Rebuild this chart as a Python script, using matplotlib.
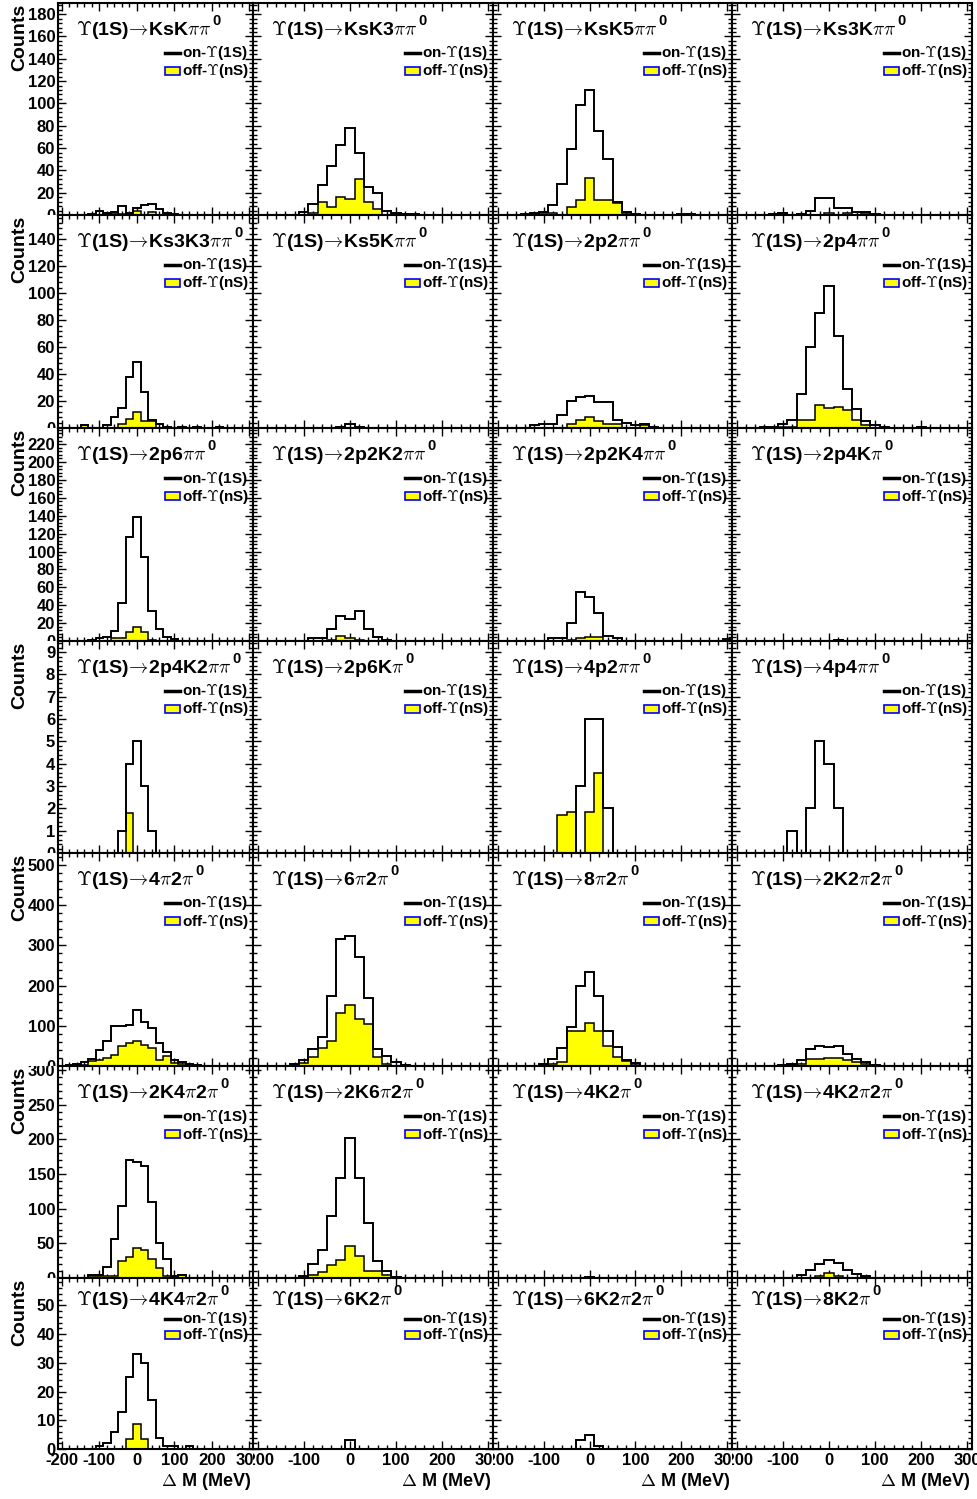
import numpy as np
import matplotlib
matplotlib.use('Agg')
import matplotlib.pyplot as plt
from matplotlib.ticker import MultipleLocator, FuncFormatter
from matplotlib.lines import Line2D
from matplotlib.patches import Rectangle
from matplotlib.transforms import Bbox

# ---------------- data ----------------
BIN_CENTERS = np.arange(-200, 301, 20)          # Delta M bin centres (MeV)
BIN_EDGES = np.arange(-210, 311, 20)

DECAYS = ['KsKππ', 'KsK3ππ', 'KsK5ππ', 'Ks3Kππ',
          'Ks3K3ππ', 'Ks5Kππ', '2p2ππ', '2p4ππ',
          '2p6ππ', '2p2K2ππ', '2p2K4ππ', '2p4Kπ',
          '2p4K2ππ', '2p6Kπ', '4p2ππ', '4p4ππ',
          '4π2π', '6π2π', '8π2π', '2K2π2π',
          '2K4π2π', '2K6π2π', '4K2π', '4K2π2π',
          '4K4π2π', '6K2π', '6K2π2π', '8K2π']   # each followed by superscript 0

ON_COUNTS = [
    {-120: 1, -100: 4, -80: 2, -60: 3, -40: 8, -20: 2, 0: 6, 20: 9, 40: 10, 60: 5, 80: 2, 100: 1},
    {-100: 3, -80: 10, -60: 27, -40: 44, -20: 63, 0: 78, 20: 56, 40: 25, 60: 20, 80: 4, 100: 2, 120: 1, 140: 1},
    {-140: 1, -120: 2, -100: 3, -80: 9, -60: 28, -40: 59, -20: 99, 0: 112, 20: 75, 40: 50, 60: 12, 80: 3, 100: 1, 200: 1, 220: 1},
    {-120: 1, -100: 2, -60: 1, -40: 4, -20: 15, 0: 15, 20: 6, 40: 6, 60: 3, 80: 3, 100: 1},
    {-140: 2, -80: 2, -60: 8, -40: 15, -20: 38, 0: 49, 20: 27, 40: 6, 60: 3, 80: 1, 120: 1, 160: 1, 220: 1},
    {-20: 1, 0: 3, 20: 1},
    {-120: 2, -100: 3, -80: 3, -60: 10, -40: 20, -20: 23, 0: 24, 20: 19, 40: 19, 60: 6, 80: 4, 100: 2, 120: 3, 140: 1},
    {-140: 1, -120: 1, -100: 3, -80: 6, -60: 25, -40: 60, -20: 85, 0: 105, 20: 68, 40: 29, 60: 14, 80: 5, 100: 2, 120: 1, 200: 1},
    {-120: 1, -100: 3, -80: 5, -60: 11, -40: 43, -20: 116, 0: 139, 20: 94, 40: 33, 60: 13, 80: 5, 100: 2},
    {-80: 3, -60: 3, -40: 13, -20: 28, 0: 25, 20: 33, 40: 13, 60: 4, 80: 1},
    {-80: 3, -60: 3, -40: 20, -20: 55, 0: 49, 20: 31, 40: 6, 60: 3, 300: 2},
    {20: 1},
    {-40: 1, -20: 4, 0: 5, 20: 3, 40: 1},
    {},
    {-20: 3, 0: 6, 20: 6, 40: 2},
    {-80: 1, -40: 2, -20: 5, 0: 4, 20: 2},
    {-180: 2, -160: 5, -140: 10, -120: 18, -100: 40, -80: 62, -60: 99, -40: 100, -20: 102, 0: 140, 20: 110, 40: 95, 60: 57, 80: 35, 100: 16, 120: 10, 140: 6, 160: 3, 180: 1},
    {-140: 1, -120: 6, -100: 16, -80: 43, -60: 73, -40: 174, -20: 316, 0: 323, 20: 271, 40: 169, 60: 43, 80: 25, 100: 10, 120: 3, 140: 1},
    {-100: 6, -80: 18, -60: 44, -40: 96, -20: 199, 0: 234, 20: 174, 40: 88, 60: 47, 80: 16, 100: 7},
    {-100: 3, -80: 6, -60: 15, -40: 43, -20: 49, 0: 48, 20: 51, 40: 30, 60: 18, 80: 10, 100: 3},
    {-120: 4, -100: 5, -80: 16, -60: 57, -40: 104, -20: 170, 0: 168, 20: 161, 40: 109, 60: 51, 80: 28, 100: 3, 120: 4},
    {-100: 3, -80: 20, -60: 41, -40: 90, -20: 145, 0: 202, 20: 145, 40: 79, 60: 25, 80: 10, 100: 2},
    {0: 1},
    {-60: 5, -40: 12, -20: 20, 0: 26, 20: 22, 40: 12, 60: 6, 80: 3},
    {-100: 1, -80: 2, -60: 6, -40: 13, -20: 25, 0: 33, 20: 30, 40: 17, 60: 4, 80: 1, 100: 1, 140: 1},
    {0: 3},
    {-20: 3, 0: 5, 20: 1},
    {},
]

OFF_COUNTS = [
    {-60: 2, -40: 1, 0: 4, 40: 3},
    {-80: 2, -60: 12, -40: 7, -20: 16, 0: 14, 20: 32, 40: 12, 60: 5},
    {-120: 1, -100: 2, -80: 2, -40: 7, -20: 13, 0: 33, 20: 13, 40: 13, 60: 11, 80: 1},
    {-100: 2, 0: 2, 40: 2, 80: 2},
    {-140: 2, -40: 3, -20: 7, 0: 12, 20: 5, 40: 5, 120: 1},
    {},
    {-40: 3, -20: 6, 0: 8, 20: 5, 40: 3, 60: 3, 120: 2},
    {-100: 1, -80: 1, -60: 6, -40: 6, -20: 17, 0: 15, 20: 15.5, 40: 13, 60: 6, 80: 2},
    {-60: 3, -40: 3, -20: 10, 0: 16, 20: 10, 40: 1},
    {-40: 1, -20: 6, 0: 3, 20: 1},
    {-40: 1, -20: 3, 0: 5, 20: 4},
    {},
    {-20: 1.8},
    {},
    {-60: 1.7, -40: 1.85, 0: 1.85, 20: 3.6},
    {},
    {-140: 3, -120: 12, -100: 16, -80: 20, -60: 28, -40: 51, -20: 57, 0: 62, 20: 53, 40: 45, 60: 15, 80: 26, 100: 8, 120: 4},
    {-120: 3, -100: 8, -80: 22, -60: 46, -40: 63, -20: 132, 0: 152, 20: 118, 40: 104, 60: 22, 80: 6},
    {-100: 3, -80: 5, -60: 10, -40: 88, -20: 88, 0: 108, 20: 86, 40: 50, 60: 22, 80: 12, 100: 3},
    {-80: 2, -60: 5, -40: 18, -20: 18, 0: 20, 20: 20, 40: 16, 60: 10, 80: 6},
    {-120: 3, -100: 3, -80: 3, -60: 3, -40: 24, -20: 31, 0: 44, 20: 40, 40: 27, 60: 15, 80: 3, 120: 4},
    {-80: 4, -60: 8, -40: 19, -20: 26, 0: 46, 20: 32, 40: 10, 60: 10, 80: 4},
    {},
    {-20: 3, 0: 7, 20: 3},
    {-20: 3.5, 0: 8.8, 20: 3.5},
    {},
    {},
    {},
]

ROW_YMAX = [190, 158, 238, 9.5, 530, 306, 59.5]
ROW_YSTEP = [20, 20, 20, 1, 100, 50, 10]
ROW_YMINOR = [4, 4, 4, 0.2, 20, 10, 2]
X_TICKS = [-200, -100, 0, 100, 200, 300]

# ---------------- layout (pixels) ----------------
W, H = 977, 1499
COL_X = [(58, 253), (253, 493), (493, 732), (732, 972)]
COL_PAD = [(0, 253), (253, 493), (493, 732), (732, 977)]
ROW_Y = [(3, 215), (215, 428), (428, 641), (641, 853), (853, 1066), (1066, 1278), (1278, 1449)]
ROW_PAD = [(0, 215), (215, 428), (428, 641), (641, 853), (853, 1066), (1066, 1278), (1278, 1499)]
TITLE_BASE = [32, 32, 32, 32, 32, 32, 27]
SUP_BASE = [22, 22, 22, 22, 22, 22, 17]
LEG_ON = [50, 50, 50, 50, 50, 50, 41]
LEG_OFF = [68, 68, 68, 68, 68, 68, 57]

plt.rcParams['font.family'] = ['Liberation Sans', 'DejaVu Sans']
plt.rcParams['font.weight'] = 'bold'
plt.rcParams['mathtext.fontset'] = 'cm'

fig = plt.figure(figsize=(W / 100, H / 100), dpi=100)
fig.patch.set_facecolor('white')

YELLOW = '#ffff00'


def fx(px):
    return px / W


def fy(py):
    return 1 - py / H


def to_math(decay):
    out = ''
    math = False
    for ch in decay:
        if ch == 'π':
            if not math:
                out += '$'
                math = True
            out += r'\pi'
        else:
            if math:
                out += '$'
                math = False
            out += ch
    if math:
        out += '$'
    return out


clip_jobs = []
titles = []

for idx, decay in enumerate(DECAYS):
    r, c = divmod(idx, 4)
    x0, x1 = COL_X[c]
    y0, y1 = ROW_Y[r]
    ax = fig.add_axes([fx(x0), fy(y1), fx(x1 - x0), (y1 - y0) / H])
    on = np.array([ON_COUNTS[idx].get(b, 0) for b in BIN_CENTERS], dtype=float)
    off = np.array([OFF_COUNTS[idx].get(b, 0) for b in BIN_CENTERS], dtype=float)
    if off.any():
        ax.stairs(off, BIN_EDGES, fill=True, facecolor=YELLOW, edgecolor='none', zorder=2)
        ax.stairs(off, BIN_EDGES, fill=False, color='black', linewidth=1.1, zorder=3)
    ax.stairs(on, BIN_EDGES, fill=False, color='black', linewidth=1.4, zorder=4)

    ax.set_xlim(-210, 310)
    ax.set_ylim(0, ROW_YMAX[r])
    ax.set_xticks(X_TICKS)
    ax.xaxis.set_minor_locator(MultipleLocator(20))
    ax.yaxis.set_major_locator(MultipleLocator(ROW_YSTEP[r]))
    ax.yaxis.set_minor_locator(MultipleLocator(ROW_YMINOR[r]))
    ax.tick_params(which='both', direction='in', top=True, right=True, width=1, labelsize=12)
    ax.tick_params(which='major', length=6)
    ax.tick_params(which='minor', length=3)
    for s in ax.spines.values():
        s.set_linewidth(1.5)
    if c != 0:
        ax.tick_params(axis='y', labelleft=False)
    else:
        ax.tick_params(axis='y', pad=2)
    if r != len(ROW_Y) - 1:
        ax.tick_params(axis='x', labelbottom=False)
    else:
        ax.xaxis.set_major_formatter(FuncFormatter(lambda v, p: '%d' % v))
        ax.tick_params(axis='x', pad=3)
    px0, px1 = COL_PAD[c]
    py0, py1 = ROW_PAD[r]
    clip_jobs.append((ax, Bbox.from_extents(px0, H - py1, px1, H - py0)))

    # title
    t = fig.text(fx(x0 + 18), fy(y0 + TITLE_BASE[r]),
                 r'$\Upsilon$(1S)$\!\rightarrow\!$' + to_math(decay),
                 fontsize=14, fontweight='bold', ha='left', va='baseline')
    titles.append((t, y0 + SUP_BASE[r]))
    # legend
    ly_on, ly_off = y0 + LEG_ON[r], y0 + LEG_OFF[r]
    fig.add_artist(Line2D([fx(x1 - 88), fx(x1 - 73)], [fy(ly_on), fy(ly_on)],
                          color='black', linewidth=2.5))
    fig.text(fx(x1 - 71), fy(ly_on), r'on-$\Upsilon$(1S)', fontsize=11,
             fontweight='bold', ha='left', va='center')
    fig.add_artist(Rectangle((fx(x1 - 88), fy(ly_off + 4)), fx(15), 8 / H,
                             facecolor=YELLOW, edgecolor='#0000ff', linewidth=1.2))
    fig.text(fx(x1 - 71), fy(ly_off), r'off-$\Upsilon$(nS)', fontsize=11,
             fontweight='bold', ha='left', va='center')

    if c == 0:
        fig.text(fx(20), fy(y0 + 1), 'Counts', rotation=90, fontsize=14,
                 fontweight='bold', ha='center', va='top')
    if r == len(ROW_Y) - 1:
        fig.text(fx(x1 - 2), fy(1481), r'$\Delta$ M (MeV)', fontsize=13,
                 fontweight='bold', ha='right', va='center')

fig.canvas.draw()
renderer = fig.canvas.get_renderer()
for ax, bb in clip_jobs:
    for lab in ax.get_xticklabels() + ax.get_yticklabels():
        lab.set_clip_on(True)
        lab.set_clip_box(bb)
for t, ysup in titles:
    ext = t.get_window_extent(renderer)
    fig.text(ext.x1 / W + fx(1), fy(ysup), '0', fontsize=10.5,
             fontweight='bold', ha='left', va='baseline')

fig.savefig('out.png', dpi=100, facecolor='white')
